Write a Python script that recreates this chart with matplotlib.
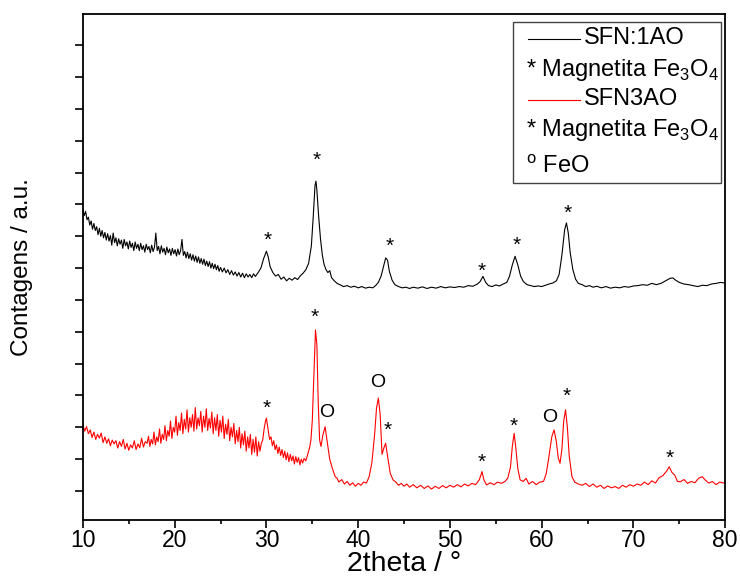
# XRD patterns SFN:1AO / SFN3AO

import numpy as np
import matplotlib.pyplot as plt
from matplotlib.patches import Rectangle

plt.rcParams['font.family'] = ['Liberation Sans', 'DejaVu Sans']
plt.rcParams['mathtext.fontset'] = 'custom'
plt.rcParams['mathtext.rm'] = 'Liberation Sans'

# SFN:1AO (black) as (2theta, counts a.u.)
sfn1_pts = [
    (10.0, 8.84), (10.15, 8.65), (10.3, 8.78), (10.45, 8.52), (10.6, 8.60), (10.75, 8.35),
    (10.9, 8.48), (11.05, 8.22), (11.2, 8.40), (11.35, 8.18), (11.5, 8.30), (11.65, 8.05),
    (11.8, 8.25), (11.95, 8.00), (12.1, 8.18), (12.25, 7.95), (12.4, 8.12), (12.55, 7.88),
    (12.7, 8.08), (12.85, 7.85), (13.0, 8.02), (13.15, 7.72), (13.3, 8.10), (13.45, 7.80),
    (13.6, 7.95), (13.75, 7.70), (13.9, 7.92), (14.05, 7.75), (14.2, 7.88), (14.35, 7.62),
    (14.5, 7.90), (14.65, 7.70), (14.8, 7.82), (14.95, 7.60), (15.1, 7.85), (15.25, 7.65),
    (15.4, 7.78), (15.55, 7.55), (15.7, 7.82), (15.85, 7.62), (16.0, 7.75), (16.15, 7.55),
    (16.3, 7.78), (16.45, 7.58), (16.6, 7.70), (16.75, 7.50), (16.9, 7.75), (17.05, 7.58),
    (17.2, 7.68), (17.35, 7.48), (17.5, 7.72), (17.65, 7.52), (17.8, 7.65), (17.95, 8.10),
    (18.1, 7.55), (18.25, 7.68), (18.4, 7.45), (18.55, 7.70), (18.7, 7.50), (18.85, 7.62),
    (19.0, 7.42), (19.15, 7.66), (19.3, 7.48), (19.45, 7.60), (19.6, 7.40), (19.75, 7.62),
    (19.9, 7.45), (20.05, 7.58), (20.2, 7.38), (20.35, 7.60), (20.5, 7.42), (20.65, 7.55),
    (20.8, 7.90), (20.95, 7.40), (21.1, 7.52), (21.25, 7.32), (21.4, 7.50), (21.55, 7.30),
    (21.7, 7.45), (21.85, 7.25), (22.0, 7.42), (22.15, 7.22), (22.3, 7.38), (22.45, 7.18),
    (22.6, 7.35), (22.75, 7.15), (22.9, 7.30), (23.05, 7.12), (23.2, 7.28), (23.35, 7.08),
    (23.5, 7.22), (23.65, 7.05), (23.8, 7.20), (23.95, 7.00), (24.1, 7.15), (24.25, 6.98),
    (24.4, 7.12), (24.55, 6.95), (24.7, 7.08), (24.85, 6.90), (25.0, 7.02), (25.2, 6.88),
    (25.4, 7.00), (25.6, 6.85), (25.8, 6.95), (26.0, 6.80), (26.2, 6.92), (26.4, 6.78),
    (26.6, 6.88), (26.8, 6.75), (27.0, 6.86), (27.2, 6.72), (27.4, 6.84), (27.6, 6.70),
    (27.8, 6.82), (28.0, 6.72), (28.2, 6.80), (28.4, 6.70), (28.6, 6.82), (28.8, 6.74),
    (29.1, 6.86), (29.4, 7.00), (29.7, 7.30), (30.0, 7.53), (30.2, 7.35), (30.4, 7.05),
    (30.7, 6.86), (31.0, 6.75), (31.3, 6.80), (31.6, 6.65), (31.9, 6.72), (32.2, 6.60),
    (32.5, 6.68), (32.8, 6.62), (33.1, 6.70), (33.4, 6.64), (33.7, 6.76), (34.0, 6.84),
    (34.3, 6.95), (34.6, 7.15), (34.9, 7.70), (35.1, 8.60), (35.3, 9.60), (35.4, 9.73),
    (35.5, 9.45), (35.7, 8.60), (35.9, 7.90), (36.1, 7.40), (36.3, 7.10), (36.5, 6.95),
    (36.7, 6.86), (36.9, 6.92), (37.1, 6.70), (37.4, 6.60), (37.7, 6.52), (38.0, 6.48),
    (38.4, 6.42), (38.8, 6.45), (39.2, 6.40), (39.6, 6.43), (40.0, 6.38), (40.4, 6.42),
    (40.8, 6.37), (41.2, 6.40), (41.6, 6.38), (41.9, 6.45), (42.2, 6.55), (42.5, 6.75),
    (42.8, 7.10), (43.0, 7.32), (43.2, 7.25), (43.4, 6.90), (43.7, 6.62), (44.0, 6.48),
    (44.4, 6.42), (44.8, 6.38), (45.2, 6.40), (45.6, 6.36), (46.0, 6.40), (46.5, 6.37),
    (47.0, 6.41), (47.5, 6.36), (48.0, 6.40), (48.5, 6.37), (49.0, 6.42), (49.5, 6.38),
    (50.0, 6.41), (50.5, 6.39), (51.0, 6.42), (51.5, 6.40), (52.0, 6.45), (52.5, 6.43),
    (53.0, 6.50), (53.3, 6.58), (53.6, 6.74), (53.9, 6.55), (54.2, 6.45), (54.6, 6.42),
    (55.0, 6.47), (55.4, 6.44), (55.8, 6.50), (56.2, 6.55), (56.5, 6.75), (56.8, 7.10),
    (57.1, 7.37), (57.4, 7.10), (57.7, 6.75), (58.0, 6.58), (58.4, 6.48), (58.8, 6.45),
    (59.2, 6.42), (59.6, 6.44), (60.0, 6.42), (60.4, 6.46), (60.8, 6.50), (61.2, 6.53),
    (61.6, 6.60), (61.9, 6.80), (62.2, 7.40), (62.5, 8.20), (62.7, 8.42), (62.9, 8.10),
    (63.1, 7.50), (63.4, 6.95), (63.7, 6.65), (64.0, 6.52), (64.4, 6.48), (64.8, 6.42),
    (65.2, 6.45), (65.6, 6.40), (66.0, 6.43), (66.5, 6.38), (67.0, 6.42), (67.5, 6.37),
    (68.0, 6.40), (68.5, 6.38), (69.0, 6.42), (69.5, 6.40), (70.0, 6.44), (70.5, 6.45),
    (71.0, 6.48), (71.5, 6.46), (72.0, 6.52), (72.5, 6.48), (73.0, 6.52), (73.5, 6.60),
    (74.0, 6.68), (74.3, 6.69), (74.6, 6.62), (75.0, 6.55), (75.5, 6.50), (76.0, 6.48),
    (76.5, 6.45), (77.0, 6.42), (77.5, 6.46), (78.0, 6.45), (78.5, 6.50), (79.0, 6.52),
    (79.5, 6.55), (80.0, 6.53),
]

# SFN3AO (red)
sfn3_pts = [
    (10.0, 2.08), (10.2, 1.88), (10.4, 2.02), (10.6, 1.80), (10.8, 1.92), (11.0, 1.68),
    (11.2, 1.85), (11.4, 1.62), (11.6, 1.78), (11.8, 1.66), (12.0, 1.82), (12.2, 1.52),
    (12.4, 1.70), (12.6, 1.50), (12.8, 1.64), (13.0, 1.42), (13.2, 1.60), (13.4, 1.48),
    (13.6, 1.58), (13.8, 1.35), (14.0, 1.55), (14.2, 1.40), (14.4, 1.62), (14.6, 1.32),
    (14.8, 1.50), (15.0, 1.28), (15.2, 1.45), (15.4, 1.35), (15.6, 1.58), (15.8, 1.30),
    (16.0, 1.48), (16.2, 1.36), (16.4, 1.66), (16.6, 1.38), (16.8, 1.55), (17.0, 1.50),
    (17.15, 1.72), (17.3, 1.40), (17.45, 1.62), (17.6, 1.48), (17.75, 1.85), (17.9, 1.45),
    (18.05, 1.70), (18.2, 1.55), (18.35, 1.95), (18.5, 1.50), (18.65, 1.78), (18.8, 1.62),
    (18.95, 2.05), (19.1, 1.58), (19.25, 1.90), (19.4, 1.72), (19.55, 2.20), (19.7, 1.65),
    (19.85, 2.00), (20.0, 1.85), (20.15, 2.35), (20.3, 1.75), (20.45, 2.15), (20.6, 1.90),
    (20.75, 2.45), (20.9, 1.80), (21.05, 2.25), (21.2, 1.95), (21.35, 2.55), (21.5, 1.85),
    (21.65, 2.30), (21.8, 2.00), (21.95, 2.40), (22.1, 1.88), (22.25, 2.62), (22.4, 1.95),
    (22.55, 2.30), (22.7, 2.05), (22.85, 2.50), (23.0, 1.85), (23.15, 2.35), (23.3, 2.00),
    (23.45, 2.58), (23.6, 1.90), (23.75, 2.28), (23.9, 1.98), (24.05, 2.48), (24.2, 1.80),
    (24.35, 2.30), (24.5, 1.90), (24.65, 2.40), (24.8, 1.72), (24.95, 2.22), (25.1, 1.85),
    (25.25, 2.35), (25.4, 1.65), (25.55, 2.10), (25.7, 1.78), (25.85, 2.25), (26.0, 1.58),
    (26.15, 2.00), (26.3, 1.70), (26.45, 2.12), (26.6, 1.48), (26.75, 1.90), (26.9, 1.55),
    (27.05, 2.00), (27.2, 1.35), (27.35, 1.80), (27.5, 1.45), (27.65, 1.88), (27.8, 1.25),
    (27.95, 1.70), (28.1, 1.35), (28.25, 1.78), (28.4, 1.15), (28.55, 1.62), (28.7, 1.22),
    (28.85, 1.70), (29.0, 1.10), (29.15, 1.55), (29.3, 1.25), (29.45, 1.50), (29.6, 1.60),
    (29.75, 1.95), (29.9, 2.20), (30.0, 2.29), (30.2, 1.90), (30.35, 1.62), (30.5, 1.70),
    (30.65, 1.42), (30.8, 1.58), (30.95, 1.30), (31.1, 1.45), (31.25, 1.18), (31.4, 1.38),
    (31.55, 1.12), (31.7, 1.30), (31.85, 1.05), (32.0, 1.25), (32.15, 0.98), (32.3, 1.20),
    (32.45, 0.92), (32.6, 1.15), (32.75, 0.95), (32.9, 1.10), (33.05, 0.85), (33.2, 1.08),
    (33.35, 0.90), (33.5, 1.05), (33.65, 0.82), (33.8, 1.00), (33.95, 0.88), (34.1, 1.02),
    (34.3, 0.95), (34.5, 1.15), (34.7, 1.35), (34.85, 1.60), (35.0, 2.20), (35.2, 3.80),
    (35.35, 5.06), (35.5, 4.60), (35.65, 2.76), (35.8, 1.60), (35.95, 1.40), (36.15, 1.75),
    (36.4, 2.02), (36.6, 1.60), (36.9, 1.00), (37.2, 0.70), (37.5, 0.45), (37.7, 0.40),
    (37.9, 0.28), (38.2, 0.36), (38.5, 0.22), (38.8, 0.30), (39.1, 0.18), (39.4, 0.26),
    (39.7, 0.15), (40.0, 0.24), (40.3, 0.18), (40.6, 0.28), (40.9, 0.25), (41.2, 0.45),
    (41.5, 0.90), (41.8, 1.80), (42.0, 2.60), (42.2, 2.92), (42.4, 2.40), (42.6, 1.15),
    (42.8, 1.35), (43.0, 1.50), (43.2, 1.10), (43.5, 0.55), (43.8, 0.35), (44.1, 0.28),
    (44.4, 0.18), (44.7, 0.24), (45.0, 0.15), (45.3, 0.22), (45.6, 0.12), (46.0, 0.20),
    (46.4, 0.10), (46.8, 0.18), (47.2, 0.08), (47.6, 0.16), (48.0, 0.06), (48.4, 0.15),
    (48.8, 0.08), (49.2, 0.17), (49.6, 0.10), (50.0, 0.18), (50.4, 0.12), (50.8, 0.20),
    (51.2, 0.13), (51.6, 0.22), (52.0, 0.16), (52.4, 0.24), (52.8, 0.20), (53.2, 0.35),
    (53.5, 0.61), (53.7, 0.35), (54.0, 0.19), (54.4, 0.26), (54.8, 0.20), (55.2, 0.28),
    (55.6, 0.24), (56.0, 0.30), (56.3, 0.40), (56.6, 0.75), (56.8, 1.40), (57.0, 1.81),
    (57.2, 1.30), (57.4, 0.70), (57.65, 0.35), (58.0, 0.30), (58.3, 0.40), (58.6, 0.22),
    (59.0, 0.30), (59.4, 0.20), (59.8, 0.28), (60.2, 0.30), (60.5, 0.55), (60.8, 1.10),
    (61.1, 1.70), (61.35, 1.92), (61.6, 1.55), (61.8, 1.05), (62.0, 0.87), (62.2, 1.30),
    (62.4, 2.20), (62.6, 2.55), (62.8, 2.00), (63.0, 1.10), (63.3, 0.45), (63.6, 0.28),
    (64.0, 0.22), (64.4, 0.18), (64.8, 0.24), (65.2, 0.14), (65.6, 0.22), (66.0, 0.12),
    (66.4, 0.18), (66.8, 0.08), (67.2, 0.16), (67.6, 0.10), (68.0, 0.14), (68.4, 0.08),
    (68.8, 0.18), (69.2, 0.12), (69.6, 0.20), (70.0, 0.15), (70.4, 0.22), (70.8, 0.18),
    (71.2, 0.28), (71.6, 0.20), (72.0, 0.32), (72.4, 0.25), (72.8, 0.42), (73.2, 0.48),
    (73.6, 0.62), (73.9, 0.76), (74.2, 0.58), (74.5, 0.50), (74.8, 0.30), (75.1, 0.29),
    (75.5, 0.36), (75.9, 0.24), (76.3, 0.30), (76.7, 0.26), (77.1, 0.40), (77.5, 0.45),
    (77.8, 0.35), (78.2, 0.25), (78.6, 0.30), (79.0, 0.20), (79.4, 0.28), (80.0, 0.24),
]

# peak labels (centre of the symbol)
stars_black_x = [30.1, 35.5, 43.4, 53.5, 57.3, 62.8]
stars_black_y = [8.10, 10.59, 7.89, 7.11, 7.95, 8.94]
stars_red_x = [30.0, 35.3, 43.2, 53.5, 56.9, 62.7, 74.0]
stars_red_y = [2.81, 5.67, 2.13, 1.13, 2.25, 3.18, 1.24]
feo_x = [36.6, 42.1, 60.9]
feo_y = [2.55, 3.49, 2.39]

x_ticks = [10, 20, 30, 40, 50, 60, 70, 80]

fig = plt.figure(figsize=(7.4, 5.77), dpi=100)
ax = fig.add_axes([0.112, 0.0988, 0.868, 0.877])

bx, by = np.array(sfn1_pts).T
rx, ry = np.array(sfn3_pts).T
ax.plot(bx, by, color='black', lw=0.8)
ax.plot(rx, ry, color='#ff0000', lw=0.8)

for x, y in zip(stars_black_x + stars_red_x, stars_black_y + stars_red_y):
    ax.annotate('*', (x, y), xytext=(0, -9.0), textcoords='offset points',
                ha='center', va='baseline', fontsize=15)
for x, y in zip(feo_x, feo_y):
    ax.annotate('O', (x, y), xytext=(0, -5.0), textcoords='offset points',
                ha='center', va='baseline', fontsize=14)

ax.set_xlim(10, 80)
ax.set_ylim(-0.91, 14.98)
ax.set_xticks(x_ticks)
ax.set_xticks(np.arange(15, 80, 10), minor=True)
ax.set_yticks(np.arange(0, 15))
ax.set_yticklabels([])
ax.tick_params(axis='x', which='major', length=5.5, width=1.2, labelsize=16.5, pad=1)
ax.tick_params(axis='x', which='minor', length=3, width=1.2)
ax.tick_params(axis='y', length=6, width=1.2)
for s in ax.spines.values():
    s.set_linewidth(1.3)

ax.set_xlabel('2theta / °', fontsize=20.5)
ax.xaxis.set_label_coords(0.5, -0.062)
ax.set_ylabel('Contagens / a.u.', fontsize=17.5)
ax.yaxis.set_label_coords(-0.078, 0.5)

# legend drawn by hand
ax.add_patch(Rectangle((0.670, 0.665), 0.323, 0.320, transform=ax.transAxes,
                       fill=False, edgecolor='#444444', lw=1.0))
ax.plot([0.693, 0.774], [0.950, 0.950], color='black', lw=0.8, transform=ax.transAxes)
ax.plot([0.693, 0.774], [0.830, 0.830], color='#ff0000', lw=0.8, transform=ax.transAxes)
leg_kw = dict(transform=ax.transAxes, va='center', ha='left', fontsize=17)
ax.text(0.780, 0.952, 'SFN:1AO', **leg_kw)
ax.text(0.690, 0.889, r'* Magnetita Fe$_{\mathregular{3}}$O$_{\mathregular{4}}$', **leg_kw)
ax.text(0.780, 0.832, 'SFN3AO', **leg_kw)
ax.text(0.690, 0.771, r'* Magnetita Fe$_{\mathregular{3}}$O$_{\mathregular{4}}$', **leg_kw)
ax.text(0.690, 0.698, r'$^{\mathregular{o}}$ FeO', **leg_kw)

fig.savefig('out.png', dpi=100)
